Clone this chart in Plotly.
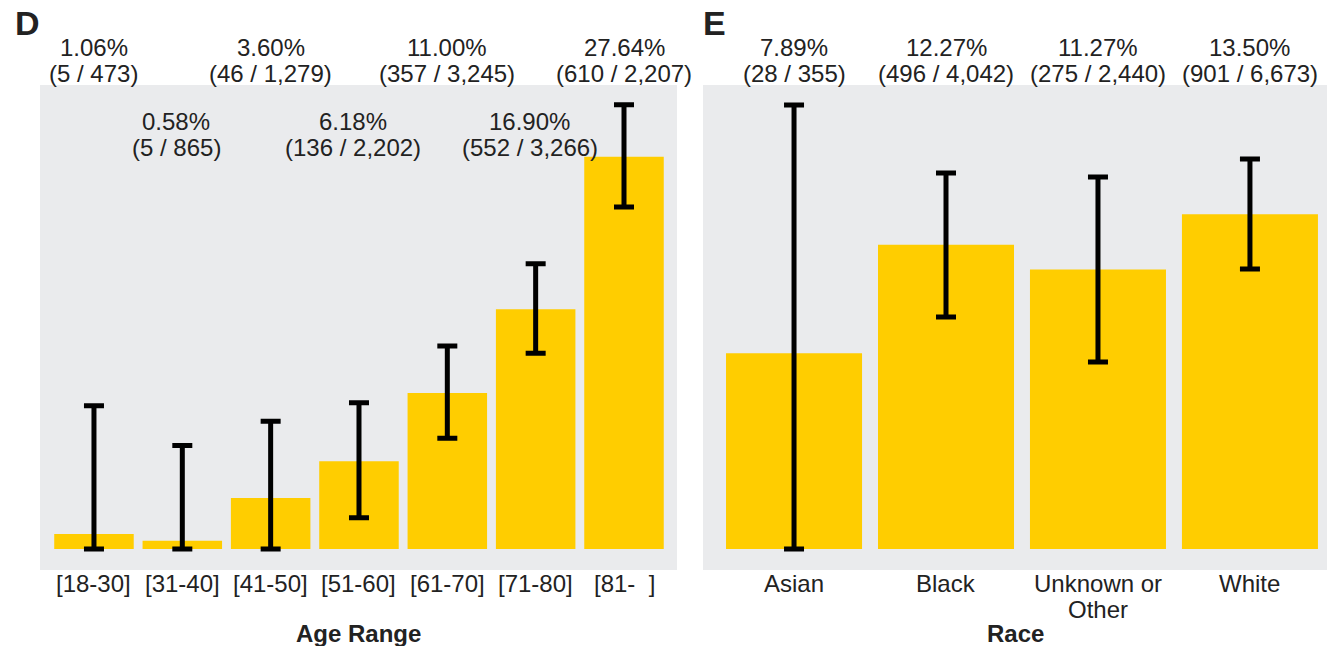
import plotly.graph_objects as go

# ---------------- data ----------------
age_labels = ["[18-30]", "[31-40]", "[41-50]", "[51-60]", "[61-70]", "[71-80]", "[81-  ]"]
age_pct = [1.06, 0.58, 3.60, 6.18, 11.00, 16.90, 27.64]
age_num = [5, 5, 46, 136, 357, 552, 610]
age_den = [473, 865, 1279, 2202, 3245, 3266, 2207]
age_ci_low = [0.0, 0.0, 0.0, 2.2, 7.8, 13.8, 24.1]
age_ci_high = [10.1, 7.3, 9.0, 10.3, 14.3, 20.1, 31.3]

race_labels = ["Asian", "Black", "Unknown or<br>Other", "White"]
race_pct = [7.89, 12.27, 11.27, 13.50]
race_num = [28, 496, 275, 901]
race_den = [355, 4042, 2440, 6673]
race_ci_low = [0.0, 9.35, 7.54, 11.29]
race_ci_high = [17.9, 15.16, 15.0, 15.73]

# ---------------- style ----------------
BAR = "#FFCD00"
BG = "#EAEBED"
TXT = "#222222"
FONT = "Liberation Sans, Arial, Helvetica, sans-serif"

fig = go.Figure()

def add_panel(labels, pct, lo, hi, xa, ya, width):
    fig.add_trace(go.Bar(
        x=list(range(len(labels))), y=pct, xaxis=xa, yaxis=ya,
        width=width, marker=dict(color=BAR, line=dict(width=0)),
        error_y=dict(type="data", symmetric=False,
                     array=[h - p for h, p in zip(hi, pct)],
                     arrayminus=[p - l for p, l in zip(pct, lo)],
                     color="black", thickness=5, width=10),
        showlegend=False, hoverinfo="skip",
    ))

add_panel(age_labels, age_pct, age_ci_low, age_ci_high, "x", "y", 0.9)
add_panel(race_labels, race_pct, race_ci_low, race_ci_high, "x2", "y2", 0.895)

annotations = []

def px2paper(ypix):
    return (570 - ypix) / 485.0

LBL = dict(size=24, color=TXT, family=FONT)

# age labels: alternating rows
for i, (p, n, d) in enumerate(zip(age_pct, age_num, age_den)):
    if i % 2 == 0:
        y1, y2 = 47, 73
        xs = 0
    else:
        y1, y2 = 122, 147
        xs = -6
    annotations.append(dict(x=i, xref="x", y=px2paper(y1), yref="paper",
                            text=f"{p:.2f}%", showarrow=False, xshift=xs,
                            yanchor="middle", font=LBL))
    annotations.append(dict(x=i, xref="x", y=px2paper(y2), yref="paper",
                            text=f"({n:,} / {d:,})", showarrow=False, xshift=xs,
                            yanchor="middle", font=LBL))

for i, (p, n, d) in enumerate(zip(race_pct, race_num, race_den)):
    annotations.append(dict(x=i, xref="x2", y=px2paper(47), yref="paper",
                            text=f"{p:.2f}%", showarrow=False,
                            yanchor="middle", font=LBL))
    annotations.append(dict(x=i, xref="x2", y=px2paper(73), yref="paper",
                            text=f"({n:,} / {d:,})", showarrow=False,
                            yanchor="middle", font=LBL))

# category labels under the bars (tight line spacing)
for xr, labels in (("x", age_labels), ("x2", race_labels)):
    for i, lab in enumerate(labels):
        for k, line in enumerate(lab.split("<br>")):
            annotations.append(dict(x=i, xref=xr, y=px2paper(583 + 26 * k), yref="paper",
                                    text=line, showarrow=False, yanchor="middle", font=LBL))

# panel letters
annotations.append(dict(x=(27.5 - 40) / 1287, xref="paper", y=px2paper(23), yref="paper",
                        text="<b>D</b>", showarrow=False, xanchor="center", yanchor="middle",
                        font=dict(size=34, color=TXT, family=FONT)))
annotations.append(dict(x=(714 - 40) / 1287, xref="paper", y=px2paper(23), yref="paper",
                        text="<b>E</b>", showarrow=False, xanchor="center", yanchor="middle",
                        font=dict(size=34, color=TXT, family=FONT)))

# axis titles
annotations.append(dict(x=0.5, xref="x domain", y=px2paper(633), yref="paper",
                        text="<b>Age Range</b>", showarrow=False, yanchor="middle",
                        font=dict(size=24, color=TXT, family=FONT)))
annotations.append(dict(x=0.5, xref="x2 domain", y=px2paper(633), yref="paper",
                        text="<b>Race</b>", showarrow=False, yanchor="middle",
                        font=dict(size=24, color=TXT, family=FONT)))

d_end = (677 - 40) / 1287
e_start = (703 - 40) / 1287

fig.update_layout(
    width=1327, height=646,
    margin=dict(l=40, r=0, t=85, b=76),
    paper_bgcolor="white",
    plot_bgcolor="white",
    font=dict(family=FONT, color=TXT),
    annotations=annotations,
    shapes=[
        dict(type="rect", xref="x domain", yref="y domain", x0=0, x1=1, y0=0, y1=1,
             fillcolor=BG, line=dict(width=0), layer="below"),
        dict(type="rect", xref="x2 domain", yref="y2 domain", x0=0, x1=1, y0=0, y1=1,
             fillcolor=BG, line=dict(width=0), layer="below"),
    ],
    xaxis=dict(domain=[0, d_end], range=[-0.611, 6.60],
               tickmode="array", tickvals=list(range(len(age_labels))), ticktext=age_labels,
               showticklabels=False,
               showgrid=False, zeroline=False, showline=False, ticks=""),
    yaxis=dict(domain=[0, 1], range=[-1.48, 32.7], visible=False, showgrid=False, zeroline=False),
    xaxis2=dict(domain=[e_start, 1], range=[-0.599, 3.507], anchor="y2",
                tickmode="array", tickvals=list(range(len(race_labels))), ticktext=race_labels,
                showticklabels=False,
                showgrid=False, zeroline=False, showline=False, ticks=""),
    yaxis2=dict(domain=[0, 1], range=[-0.85, 18.71], anchor="x2", visible=False,
                showgrid=False, zeroline=False),
)

# remove the page's default 8px body margin so the figure fills the window exactly
fig.write_html("out.html",
               config={"displayModeBar": False},
               post_script="document.body.style.margin='0';document.body.style.overflow='hidden';")
